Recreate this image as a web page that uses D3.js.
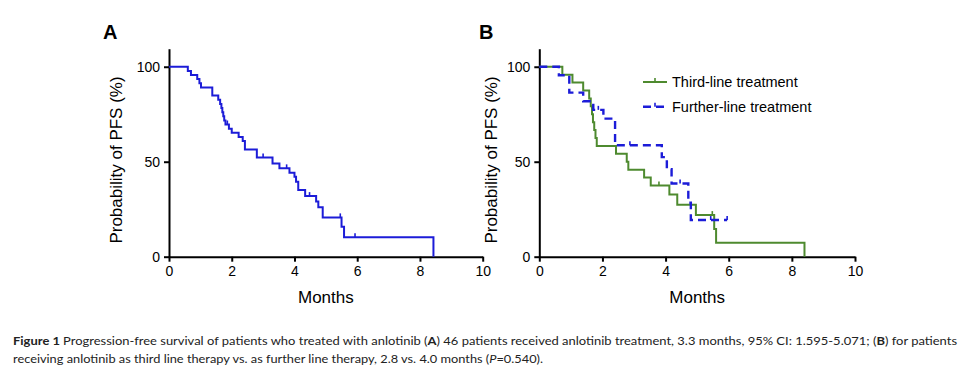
<!DOCTYPE html>
<meta charset="utf-8">
<script src="https://d3js.org/d3.v7.min.js"></script>
<style>
  body { margin: 0; background: #fff; }
  svg { display: block; font-family: 'Liberation Sans', Arial, sans-serif; }
  .axis path, .axis line { stroke: #000; stroke-width: 2px; }
  .axis text { font-size: 14px; fill: #000; }
  .caption { font-family: Lato, 'Open Sans', sans-serif; font-size: 12px; fill: #222; }
</style>
<body>
<svg width="969" height="378"></svg>
<script>

// panel A: all 46 patients
var monthsA = [0.6, 0.7, 0.9, 0.97, 1.02, 1.38, 1.57, 1.63, 1.67, 1.7, 1.73, 1.76, 1.8, 1.91, 2.0, 2.22, 2.35, 2.42, 2.8, 3.3, 3.52, 3.84, 4.0, 4.05, 4.12, 4.34, 4.69, 4.76, 4.9, 5.5, 5.58, 8.43];
var survA   = [97.8, 95.7, 93.5, 91.3, 89.1, 84.8, 82.6, 80.4, 78.3, 76.1, 73.9, 71.7, 69.6, 67.4, 65.2, 63.0, 60.9, 56.5, 52.2, 49.1, 46.5, 44.2, 42.1, 39.5, 35.1, 31.9, 29.0, 26.0, 20.7, 15.8, 10.2, 0];
var censorA = [1.86, 3.0, 3.75, 4.48, 5.46, 5.93];

// panel B: third-line
var monthsThird = [0.73, 1.05, 1.39, 1.58, 1.63, 1.67, 1.7, 1.74, 1.78, 1.82, 2.43, 2.77, 2.82, 3.32, 3.53, 4.12, 4.37, 4.96, 5.54, 5.6, 8.4];
var survThird   = [95.8, 91.7, 87.5, 83.3, 79.2, 75.0, 70.8, 66.7, 62.5, 58.3, 54.2, 50.0, 45.8, 41.7, 37.5, 32.8, 27.3, 21.9, 14.6, 7.3, 0];
var censorThird = [3.79, 5.48];

// panel B: further-line
var monthsFurther = [0.62, 0.95, 1.39, 1.71, 2.03, 2.4, 3.88, 4.04, 4.19, 4.72, 4.8];
var survFurther   = [95.5, 86.4, 81.8, 77.3, 72.7, 58.7, 52.4, 46.0, 38.5, 28.4, 19.3];
var censorFurther = [1.87, 2.87, 4.46, 5.43, 5.95];

var xTicks = [0, 2, 4, 6, 8, 10];
var yTicks = [0, 50, 100];

var svg = d3.select("svg");

function survAt(times, surv, t) {
  var s = 100;
  for (var i = 0; i < times.length; i++) { if (times[i] <= t) s = surv[i]; }
  return s;
}

function drawPanel(left, right, letter, letterX, labelOffset) {
  var x = d3.scaleLinear().domain([0, 10]).range([left, right]);
  var y = d3.scaleLinear().domain([0, 109.5]).range([256.7, 48.7]);

  svg.append("g")
      .attr("class", "axis")
      .attr("transform", "translate(0,256.7)")
      .call(d3.axisBottom(x).tickValues(xTicks).tickSize(5).tickSizeOuter(0).tickPadding(4));

  svg.append("g")
      .attr("class", "axis")
      .attr("transform", "translate(" + left + ",0)")
      .call(d3.axisLeft(y).tickValues(yTicks).tickSize(5).tickSizeOuter(0).tickPadding(4));

  svg.append("text")
      .attr("x", (left + right) / 2)
      .attr("y", 303)
      .attr("text-anchor", "middle")
      .attr("font-size", 17)
      .text("Months");

  svg.append("text")
      .attr("transform", "translate(" + (left - labelOffset) + ",160) rotate(-90)")
      .attr("text-anchor", "middle")
      .attr("dy", "0.35em")
      .attr("font-size", 17)
      .text("Probability of PFS (%)");

  svg.append("text")
      .attr("x", letterX)
      .attr("y", 39)
      .attr("font-size", 20)
      .attr("font-weight", "bold")
      .text(letter);

  return { x: x, y: y };
}

function drawCurve(sc, times, surv, censor, color, dash) {
  var pts = [[0, 100]];
  times.forEach(function(t, i) { pts.push([t, surv[i]]); });
  var lastC = d3.max(censor);
  if (lastC > times[times.length - 1]) pts.push([lastC, surv[surv.length - 1]]);

  var line = d3.line()
      .x(function(d) { return sc.x(d[0]); })
      .y(function(d) { return sc.y(d[1]); })
      .curve(d3.curveStepAfter);

  svg.append("path")
      .datum(pts)
      .attr("fill", "none")
      .attr("stroke", color)
      .attr("stroke-width", dash ? 2.4 : 2)
      .attr("stroke-dasharray", dash)
      .attr("d", line);

  // censor marks
  svg.append("g").selectAll("line")
    .data(censor)
    .join("line")
      .attr("x1", function(d) { return sc.x(d); })
      .attr("x2", function(d) { return sc.x(d); })
      .attr("y1", function(d) { return sc.y(survAt(times, surv, d)); })
      .attr("y2", function(d) { return sc.y(survAt(times, surv, d)) - 4; })
      .attr("stroke", color)
      .attr("stroke-width", 1.6);
}

var blue = "#1c1cd8", green = "#4e8a2f";

var a = drawPanel(169, 482.7, "A", 103, 53);
drawCurve(a, monthsA, survA, censorA, blue, null);

var b = drawPanel(539.3, 855, "B", 479, 48);
drawCurve(b, monthsThird, survThird, censorThird, green, null);
drawCurve(b, monthsFurther, survFurther, censorFurther, blue, "8,5");

// legend
var legend = [
  { name: "Third-line treatment", color: green, dash: null, y: 82 },
  { name: "Further-line treatment", color: blue, dash: "8,5", y: 106.7 }
];
var lg = svg.append("g").selectAll("g").data(legend).join("g");
lg.append("line")
    .attr("x1", 643).attr("x2", 667)
    .attr("y1", function(d) { return d.y; }).attr("y2", function(d) { return d.y; })
    .attr("stroke", function(d) { return d.color; })
    .attr("stroke-width", function(d) { return d.dash ? 2.4 : 2; })
    .attr("stroke-dasharray", function(d) { return d.dash; });
lg.append("line")
    .attr("x1", 655).attr("x2", 655)
    .attr("y1", function(d) { return d.y; }).attr("y2", function(d) { return d.y - 4; })
    .attr("stroke", function(d) { return d.color; })
    .attr("stroke-width", 1.6);
lg.append("text")
    .attr("x", 672)
    .attr("y", function(d) { return d.y; })
    .attr("dy", "0.35em")
    .attr("font-size", 14.5)
    .text(function(d) { return d.name; });

// caption
var cap1 = svg.append("text").attr("class", "caption").attr("x", 13).attr("y", 345)
    .attr("textLength", 944).attr("lengthAdjust", "spacingAndGlyphs");
cap1.append("tspan").attr("font-weight", "bold").text("Figure 1 ");
cap1.append("tspan").text("Progression-free survival of patients who treated with anlotinib (");
cap1.append("tspan").attr("font-weight", "bold").text("A");
cap1.append("tspan").text(") 46 patients received anlotinib treatment, 3.3 months, 95% CI: 1.595-5.071; (");
cap1.append("tspan").attr("font-weight", "bold").text("B");
cap1.append("tspan").text(") for patients");

var cap2 = svg.append("text").attr("class", "caption").attr("x", 13).attr("y", 363)
    .attr("textLength", 530).attr("lengthAdjust", "spacingAndGlyphs");
cap2.append("tspan").text("receiving anlotinib as third line therapy vs. as further line therapy, 2.8 vs. 4.0 months (");
cap2.append("tspan").attr("font-style", "italic").text("P");
cap2.append("tspan").text("=0.540).");

</script>
</body>
